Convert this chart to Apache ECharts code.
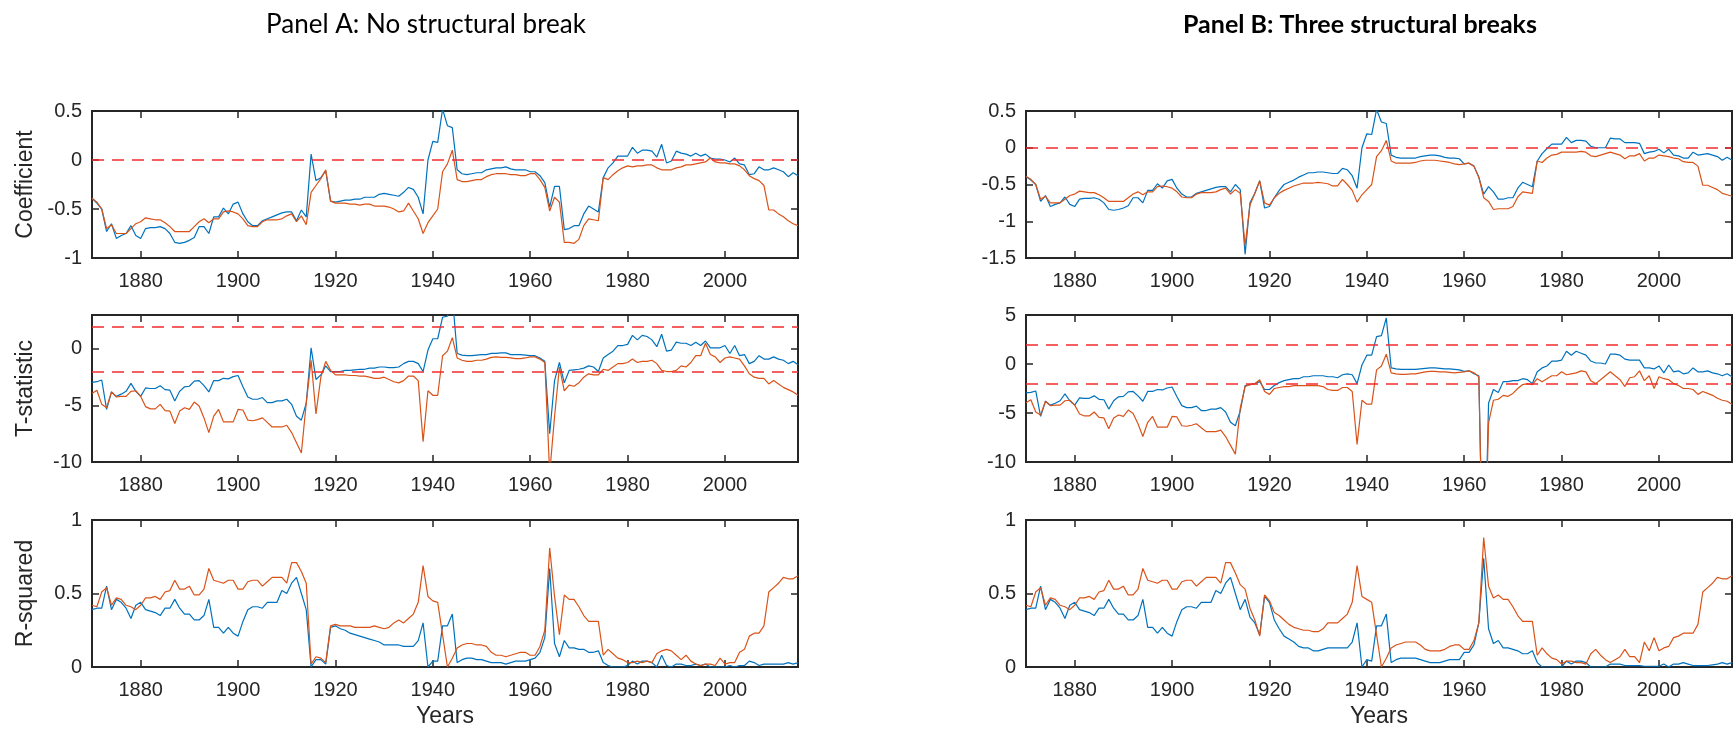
<!DOCTYPE html>
<html>
<head>
<meta charset="utf-8">
<script src="https://cdn.jsdelivr.net/npm/echarts@6/dist/echarts.min.js"></script>
<style>
  html, body { margin: 0; padding: 0; background: #ffffff; }
  #chart { width: 1736px; height: 734px; }
</style>
</head>
<body>
<div id="chart"></div>
<script>
// ---- data: rolling estimates, one value per year 1870–2015 ----
const firstYear = 1870;
const lastYear = 2015;
const xTicks = [1880, 1900, 1920, 1940, 1960, 1980, 2000];

// Panel A – coefficient
const coefA_blue = [
  -0.39,-0.44,-0.50,-0.73,-0.65,-0.80,-0.77,-0.75,-0.67,-0.77,
  -0.80,-0.70,-0.69,-0.69,-0.68,-0.70,-0.75,-0.84,-0.85,-0.84,
  -0.82,-0.79,-0.68,-0.68,-0.75,-0.58,-0.58,-0.49,-0.55,-0.45,
  -0.43,-0.55,-0.63,-0.67,-0.67,-0.62,-0.60,-0.58,-0.56,-0.54,
  -0.53,-0.53,-0.62,-0.51,-0.58,0.06,-0.21,-0.18,-0.11,-0.42,
  -0.43,-0.42,-0.41,-0.41,-0.40,-0.40,-0.38,-0.38,-0.38,-0.35,
  -0.34,-0.35,-0.36,-0.37,-0.33,-0.28,-0.30,-0.38,-0.55,0.00,
  0.19,0.18,0.52,0.35,0.33,-0.10,-0.14,-0.15,-0.14,-0.13,
  -0.13,-0.10,-0.09,-0.08,-0.08,-0.07,-0.09,-0.10,-0.10,-0.10,
  -0.12,-0.12,-0.16,-0.23,-0.48,-0.27,-0.27,-0.71,-0.70,-0.67,
  -0.67,-0.55,-0.47,-0.50,-0.53,-0.18,-0.08,-0.03,0.04,0.04,
  0.04,0.13,0.07,0.10,0.10,0.09,0.03,0.16,-0.03,-0.01,
  0.09,0.07,0.06,0.04,0.07,0.04,0.06,0.02,0.01,0.01,
  0.00,-0.02,0.02,-0.04,-0.05,-0.15,-0.14,-0.07,-0.10,-0.10,
  -0.08,-0.10,-0.12,-0.17,-0.13,-0.16
];
const coefA_orange = [
  -0.39,-0.43,-0.50,-0.70,-0.66,-0.75,-0.75,-0.75,-0.70,-0.65,
  -0.63,-0.59,-0.60,-0.61,-0.61,-0.64,-0.68,-0.73,-0.73,-0.73,
  -0.73,-0.68,-0.63,-0.60,-0.64,-0.60,-0.60,-0.53,-0.52,-0.53,
  -0.55,-0.60,-0.67,-0.68,-0.68,-0.63,-0.61,-0.61,-0.61,-0.60,
  -0.57,-0.55,-0.63,-0.57,-0.66,-0.33,-0.26,-0.19,-0.10,-0.42,
  -0.44,-0.44,-0.44,-0.45,-0.45,-0.46,-0.45,-0.45,-0.47,-0.47,
  -0.47,-0.48,-0.50,-0.53,-0.52,-0.44,-0.52,-0.60,-0.75,-0.64,
  -0.57,-0.50,-0.12,-0.04,0.10,-0.20,-0.22,-0.22,-0.21,-0.20,
  -0.20,-0.17,-0.15,-0.14,-0.14,-0.14,-0.15,-0.15,-0.16,-0.16,
  -0.14,-0.14,-0.20,-0.28,-0.52,-0.38,-0.43,-0.84,-0.84,-0.85,
  -0.81,-0.67,-0.60,-0.61,-0.62,-0.18,-0.20,-0.15,-0.11,-0.08,
  -0.06,-0.07,-0.06,-0.06,-0.05,-0.05,-0.08,-0.10,-0.10,-0.10,
  -0.08,-0.07,-0.05,-0.05,-0.04,-0.03,-0.02,0.02,-0.02,-0.03,
  -0.03,-0.04,-0.04,-0.06,-0.10,-0.16,-0.19,-0.21,-0.26,-0.51,
  -0.51,-0.55,-0.58,-0.62,-0.65,-0.67
];

// Panel B – coefficient
const coefB_blue = [
  -0.39,-0.44,-0.50,-0.73,-0.65,-0.80,-0.77,-0.75,-0.67,-0.77,
  -0.80,-0.70,-0.69,-0.69,-0.68,-0.70,-0.75,-0.84,-0.85,-0.84,
  -0.82,-0.79,-0.68,-0.68,-0.75,-0.58,-0.58,-0.49,-0.55,-0.45,
  -0.43,-0.55,-0.63,-0.67,-0.67,-0.62,-0.60,-0.58,-0.56,-0.54,
  -0.53,-0.53,-0.60,-0.50,-0.57,-1.45,-0.75,-0.62,-0.45,-0.82,
  -0.80,-0.68,-0.58,-0.50,-0.47,-0.44,-0.40,-0.37,-0.34,-0.34,
  -0.33,-0.33,-0.34,-0.35,-0.35,-0.28,-0.30,-0.38,-0.55,0.00,
  0.19,0.18,0.52,0.35,0.33,-0.10,-0.13,-0.14,-0.14,-0.14,
  -0.14,-0.12,-0.11,-0.10,-0.10,-0.11,-0.13,-0.14,-0.14,-0.15,
  -0.22,-0.21,-0.25,-0.40,-0.63,-0.53,-0.60,-0.70,-0.70,-0.68,
  -0.68,-0.55,-0.47,-0.50,-0.53,-0.18,-0.08,-0.01,0.05,0.05,
  0.05,0.14,0.07,0.10,0.10,0.09,0.02,0.00,0.00,0.00,
  0.13,0.12,0.12,0.07,0.07,0.07,0.06,-0.08,-0.06,-0.05,
  -0.02,-0.07,-0.02,-0.10,-0.11,-0.14,-0.14,-0.06,-0.10,-0.09,
  -0.08,-0.10,-0.12,-0.17,-0.13,-0.17
];
const coefB_orange = [
  -0.39,-0.43,-0.50,-0.70,-0.66,-0.75,-0.75,-0.75,-0.70,-0.65,
  -0.63,-0.59,-0.60,-0.61,-0.61,-0.64,-0.68,-0.73,-0.73,-0.73,
  -0.73,-0.68,-0.63,-0.60,-0.64,-0.60,-0.60,-0.53,-0.52,-0.53,
  -0.55,-0.60,-0.67,-0.68,-0.68,-0.63,-0.61,-0.61,-0.61,-0.60,
  -0.57,-0.55,-0.63,-0.57,-0.62,-1.33,-0.78,-0.62,-0.45,-0.75,
  -0.78,-0.68,-0.62,-0.58,-0.55,-0.52,-0.50,-0.48,-0.48,-0.48,
  -0.47,-0.48,-0.49,-0.52,-0.52,-0.43,-0.50,-0.58,-0.74,-0.64,
  -0.57,-0.50,-0.12,-0.04,0.10,-0.18,-0.21,-0.21,-0.21,-0.21,
  -0.20,-0.18,-0.17,-0.17,-0.17,-0.18,-0.19,-0.20,-0.22,-0.23,
  -0.22,-0.21,-0.25,-0.40,-0.68,-0.73,-0.84,-0.83,-0.83,-0.83,
  -0.80,-0.67,-0.60,-0.61,-0.62,-0.18,-0.20,-0.14,-0.10,-0.09,
  -0.06,-0.06,-0.06,-0.06,-0.05,-0.06,-0.11,-0.12,-0.10,-0.08,
  -0.06,-0.08,-0.10,-0.15,-0.11,-0.11,-0.08,-0.18,-0.14,-0.14,
  -0.10,-0.11,-0.12,-0.14,-0.15,-0.19,-0.20,-0.20,-0.25,-0.51,
  -0.51,-0.54,-0.57,-0.62,-0.64,-0.66
];

// Panel A – t-statistic
const tstatA_blue = [
  -2.95,-2.9,-2.75,-5.35,-3.8,-4.2,-4.0,-3.75,-3.05,-3.75,
  -4.2,-3.45,-3.5,-3.5,-3.25,-3.6,-3.65,-4.6,-3.75,-3.35,
  -3.3,-2.85,-2.8,-3.25,-3.8,-2.8,-2.8,-2.6,-2.65,-2.45,
  -2.35,-3.35,-4.25,-4.45,-4.45,-4.3,-4.75,-4.75,-4.6,-4.6,
  -4.45,-4.9,-5.95,-6.3,-4.8,0.1,-2.7,-2.3,-1.5,-2.0,
  -2.0,-2.0,-1.9,-1.9,-1.85,-1.8,-1.8,-1.7,-1.7,-1.6,
  -1.6,-1.65,-1.65,-1.6,-1.3,-1.1,-1.1,-1.3,-2.0,-0.1,
  0.9,0.9,2.8,2.9,4.7,-0.4,-0.55,-0.6,-0.6,-0.55,
  -0.5,-0.5,-0.4,-0.4,-0.35,-0.35,-0.5,-0.5,-0.5,-0.55,
  -0.6,-0.6,-0.8,-1.1,-7.5,-2.8,-1.2,-3.0,-1.9,-1.85,
  -1.8,-1.7,-1.5,-1.6,-2.0,-0.8,-0.5,-0.2,0.3,0.3,
  0.4,1.2,0.8,1.2,1.1,0.8,0.2,1.3,-0.2,-0.1,
  0.6,0.5,0.5,0.3,0.6,0.3,0.7,0.1,0.1,0.1,
  0.3,-0.4,0.3,-0.6,-0.5,-1.3,-1.1,-0.6,-0.9,-0.9,
  -0.7,-0.9,-1.0,-1.3,-1.1,-1.4
];
const tstatA_orange = [
  -3.95,-3.65,-4.9,-5.2,-3.8,-4.25,-4.2,-4.2,-3.75,-3.7,
  -4.2,-5.1,-5.3,-5.3,-4.9,-5.45,-5.5,-6.6,-5.5,-5.2,
  -5.35,-4.7,-5.05,-6.1,-7.4,-5.95,-5.35,-6.45,-6.45,-6.45,
  -5.35,-5.4,-6.3,-6.35,-6.25,-6.1,-6.5,-6.9,-6.9,-6.9,
  -6.75,-7.4,-8.3,-9.2,-4.8,-1.0,-5.75,-2.5,-1.1,-1.9,
  -2.3,-2.3,-2.3,-2.35,-2.35,-2.4,-2.4,-2.5,-2.6,-2.6,
  -2.5,-2.7,-2.9,-3.0,-2.8,-2.4,-2.4,-2.8,-8.2,-3.7,
  -4.1,-4.1,-0.6,-0.2,1.0,-0.8,-1.0,-1.1,-1.1,-1.0,
  -1.0,-0.9,-0.75,-0.7,-0.75,-0.75,-0.8,-0.85,-0.85,-0.8,
  -0.7,-0.7,-0.9,-1.2,-11.0,-6.0,-1.6,-3.7,-3.2,-3.3,
  -3.0,-2.5,-2.2,-2.3,-2.3,-1.8,-1.9,-1.6,-1.3,-1.3,
  -1.2,-0.9,-1.2,-1.1,-1.1,-1.0,-1.3,-1.9,-2.0,-2.0,
  -1.9,-1.5,-1.6,-1.2,-0.6,-0.6,0.5,-0.5,-0.7,-1.2,
  -0.8,-0.7,-0.8,-0.9,-1.5,-2.2,-2.5,-2.6,-2.6,-3.1,
  -2.8,-3.1,-3.4,-3.6,-3.8,-4.1
];

// Panel B – t-statistic
const tstatB_blue = [
  -2.95,-2.9,-2.75,-5.35,-3.8,-4.2,-4.0,-3.75,-3.05,-3.75,
  -4.2,-3.45,-3.5,-3.5,-3.25,-3.6,-3.65,-4.6,-3.75,-3.35,
  -3.3,-2.85,-2.8,-3.25,-3.8,-2.8,-2.8,-2.6,-2.65,-2.45,
  -2.35,-3.35,-4.25,-4.45,-4.45,-4.3,-4.75,-4.75,-4.6,-4.6,
  -4.45,-4.9,-5.95,-6.3,-4.8,-2.2,-2.1,-2.0,-1.8,-2.6,
  -2.6,-2.2,-1.9,-1.7,-1.6,-1.5,-1.5,-1.3,-1.3,-1.2,
  -1.2,-1.2,-1.3,-1.3,-1.4,-1.1,-1.0,-1.1,-2.0,-0.1,
  0.9,0.9,2.8,2.9,4.7,-0.4,-0.5,-0.55,-0.55,-0.55,
  -0.55,-0.5,-0.45,-0.4,-0.4,-0.45,-0.5,-0.5,-0.55,-0.6,
  -0.75,-0.7,-1.0,-1.2,-25.0,-4.0,-2.6,-2.9,-1.8,-1.8,
  -1.7,-1.7,-1.5,-1.6,-2.0,-0.8,-0.4,-0.2,0.3,0.3,
  0.4,1.3,0.9,1.3,1.1,0.9,0.3,0.1,0.1,0.0,
  1.0,1.0,0.9,0.5,0.4,0.4,0.4,-0.4,-0.4,-0.5,
  -0.2,-0.9,-0.1,-0.8,-0.7,-1.0,-0.9,-0.4,-0.8,-0.8,
  -0.7,-0.9,-1.0,-1.2,-1.0,-1.3
];
const tstatB_orange = [
  -3.95,-3.65,-4.9,-5.2,-3.8,-4.25,-4.2,-4.2,-3.75,-3.7,
  -4.2,-5.1,-5.3,-5.3,-4.9,-5.45,-5.5,-6.6,-5.5,-5.2,
  -5.35,-4.7,-5.05,-6.1,-7.4,-5.95,-5.35,-6.45,-6.45,-6.45,
  -5.35,-5.4,-6.3,-6.35,-6.25,-6.1,-6.5,-6.9,-6.9,-6.9,
  -6.75,-7.4,-8.3,-9.2,-4.5,-2.3,-2.1,-2.0,-1.6,-2.8,
  -3.1,-2.5,-2.4,-2.3,-2.3,-2.2,-2.2,-2.2,-2.2,-2.2,
  -2.2,-2.3,-2.6,-2.7,-2.7,-2.4,-2.4,-2.8,-8.2,-3.7,
  -4.1,-4.1,-0.6,-0.2,1.0,-0.9,-1.0,-1.05,-1.05,-1.0,
  -1.0,-0.9,-0.8,-0.75,-0.75,-0.8,-0.8,-0.85,-0.9,-0.85,
  -0.8,-0.7,-0.9,-1.3,-25.0,-6.0,-3.7,-3.6,-3.2,-3.3,
  -3.0,-2.5,-2.1,-2.0,-2.1,-1.5,-1.8,-1.5,-1.2,-1.2,
  -0.8,-1.1,-1.0,-0.9,-0.7,-0.8,-1.7,-2.0,-1.6,-1.2,
  -0.8,-1.2,-1.6,-2.3,-1.4,-1.3,-0.7,-1.7,-1.2,-2.5,
  -1.3,-1.5,-1.6,-2.0,-2.2,-2.5,-2.5,-2.6,-3.1,-2.8,
  -3.0,-3.2,-3.5,-3.7,-3.8,-4.1
];

// Panel A – R-squared
const rsqA_blue = [
  0.39,0.40,0.40,0.55,0.39,0.46,0.44,0.40,0.33,0.42,
  0.44,0.39,0.38,0.37,0.35,0.40,0.40,0.46,0.40,0.36,
  0.36,0.32,0.32,0.35,0.46,0.27,0.27,0.23,0.27,0.23,
  0.21,0.31,0.39,0.41,0.41,0.40,0.44,0.44,0.44,0.52,
  0.50,0.57,0.61,0.50,0.39,0.00,0.05,0.05,0.02,0.27,
  0.28,0.26,0.25,0.23,0.22,0.21,0.20,0.19,0.18,0.17,
  0.15,0.15,0.15,0.15,0.14,0.14,0.14,0.18,0.30,0.00,
  0.04,0.04,0.28,0.28,0.36,0.03,0.05,0.06,0.06,0.05,
  0.05,0.04,0.03,0.03,0.03,0.02,0.03,0.04,0.04,0.04,
  0.05,0.06,0.10,0.20,0.67,0.16,0.07,0.18,0.13,0.13,
  0.12,0.12,0.10,0.10,0.11,0.03,0.01,0.00,0.00,0.00,
  0.01,0.04,0.02,0.04,0.04,0.03,0.00,0.08,0.01,0.00,
  0.02,0.02,0.01,0.01,0.02,0.01,0.02,0.00,0.00,0.00,
  0.00,0.01,0.00,0.01,0.01,0.04,0.03,0.01,0.02,0.02,
  0.02,0.02,0.02,0.03,0.02,0.03
];
const rsqA_orange = [
  0.42,0.41,0.51,0.54,0.42,0.47,0.46,0.42,0.41,0.39,
  0.42,0.47,0.47,0.48,0.46,0.51,0.52,0.59,0.53,0.53,
  0.55,0.49,0.49,0.53,0.67,0.59,0.58,0.57,0.59,0.59,
  0.53,0.53,0.58,0.59,0.59,0.55,0.58,0.61,0.61,0.61,
  0.57,0.71,0.71,0.65,0.57,0.02,0.07,0.06,0.03,0.28,
  0.29,0.28,0.28,0.28,0.27,0.27,0.27,0.27,0.28,0.27,
  0.26,0.27,0.30,0.32,0.30,0.33,0.36,0.44,0.69,0.48,
  0.45,0.44,0.22,0.00,0.06,0.13,0.15,0.16,0.16,0.15,
  0.15,0.14,0.10,0.08,0.08,0.07,0.08,0.09,0.10,0.10,
  0.08,0.08,0.14,0.25,0.81,0.48,0.22,0.49,0.46,0.46,
  0.41,0.35,0.31,0.31,0.31,0.08,0.12,0.09,0.06,0.05,
  0.03,0.03,0.04,0.03,0.04,0.03,0.09,0.11,0.12,0.11,
  0.08,0.05,0.08,0.04,0.02,0.01,0.02,0.02,0.01,0.06,
  0.02,0.03,0.03,0.10,0.12,0.21,0.23,0.23,0.28,0.51,
  0.54,0.57,0.61,0.60,0.60,0.62
];

// Panel B – R-squared
const rsqB_blue = [
  0.39,0.40,0.40,0.55,0.39,0.46,0.44,0.40,0.33,0.42,
  0.44,0.39,0.38,0.37,0.35,0.40,0.40,0.46,0.40,0.36,
  0.36,0.32,0.32,0.35,0.46,0.27,0.27,0.23,0.27,0.23,
  0.21,0.31,0.39,0.41,0.41,0.40,0.44,0.44,0.44,0.52,
  0.50,0.57,0.61,0.50,0.39,0.46,0.34,0.30,0.22,0.48,
  0.44,0.32,0.26,0.21,0.19,0.17,0.14,0.13,0.13,0.11,
  0.11,0.12,0.13,0.13,0.13,0.13,0.13,0.17,0.30,0.00,
  0.05,0.04,0.28,0.28,0.36,0.03,0.05,0.06,0.06,0.06,
  0.06,0.05,0.04,0.03,0.03,0.03,0.04,0.05,0.05,0.05,
  0.10,0.10,0.15,0.30,0.74,0.26,0.16,0.18,0.13,0.13,
  0.12,0.11,0.09,0.09,0.11,0.03,0.00,0.00,0.00,0.00,
  0.00,0.04,0.02,0.04,0.04,0.03,0.00,0.00,0.00,0.00,
  0.02,0.02,0.02,0.01,0.01,0.01,0.01,0.005,0.005,0.005,
  0.005,0.02,0.00,0.02,0.02,0.03,0.02,0.01,0.01,0.01,
  0.01,0.015,0.02,0.03,0.02,0.03
];
const rsqB_orange = [
  0.42,0.41,0.51,0.54,0.42,0.47,0.46,0.42,0.41,0.39,
  0.42,0.47,0.47,0.48,0.46,0.51,0.52,0.59,0.53,0.53,
  0.55,0.49,0.49,0.53,0.67,0.59,0.58,0.57,0.59,0.59,
  0.53,0.53,0.58,0.59,0.59,0.55,0.58,0.61,0.61,0.61,
  0.57,0.71,0.71,0.64,0.56,0.53,0.40,0.32,0.21,0.49,
  0.45,0.37,0.35,0.32,0.29,0.27,0.26,0.25,0.25,0.24,
  0.24,0.26,0.30,0.30,0.30,0.33,0.36,0.44,0.69,0.48,
  0.46,0.44,0.22,0.00,0.06,0.13,0.15,0.16,0.17,0.17,
  0.17,0.15,0.12,0.11,0.11,0.11,0.12,0.14,0.15,0.15,
  0.12,0.12,0.18,0.30,0.88,0.55,0.47,0.49,0.46,0.46,
  0.41,0.35,0.31,0.31,0.31,0.08,0.13,0.09,0.06,0.05,
  0.02,0.04,0.04,0.03,0.03,0.02,0.09,0.12,0.08,0.05,
  0.03,0.05,0.07,0.12,0.07,0.07,0.03,0.17,0.11,0.20,
  0.11,0.13,0.14,0.20,0.21,0.23,0.23,0.23,0.29,0.51,
  0.54,0.57,0.61,0.60,0.60,0.62
];

// Axis settings per row
const coefTicksA = [-1, -0.5, 0, 0.5];
const coefTicksB = [-1.5, -1, -0.5, 0, 0.5];
const tstatTicksA = [-10, -5, 0];
const tstatTicksB = [-10, -5, 0, 5];
const rsqTicks = [0, 0.5, 1];
const coefRefLines = [0];
const tstatRefLines = [2, -2];

const panelTitles = ['Panel A: No structural break', 'Panel B: Three structural breaks'];
const rowNames = ['Coefficient', 'T-statistic', 'R-squared'];
const xName = 'Years';

// ---- chart construction ----
const years = [];
for (let y = firstYear; y <= lastYear; y++) years.push(y);

const BLUE = '#0072BD';
const ORANGE = '#D95319';
const INK = '#262626';
const AXIS_FONT = '"Liberation Sans", Arial, Helvetica, sans-serif';

const colLeft = [92, 1026];
const colWidth = 706;
const rowTop = [111, 315, 520];
const rowHeight = 147;

const panels = [
  // [column, row, blue, orange, yMin, yMax, ticks, refLines]
  [0, 0, coefA_blue, coefA_orange, -1, 0.5, coefTicksA, coefRefLines],
  [0, 1, tstatA_blue, tstatA_orange, -10, 3, tstatTicksA, tstatRefLines],
  [0, 2, rsqA_blue, rsqA_orange, 0, 1, rsqTicks, null],
  [1, 0, coefB_blue, coefB_orange, -1.5, 0.5, coefTicksB, coefRefLines],
  [1, 1, tstatB_blue, tstatB_orange, -10, 5, tstatTicksB, tstatRefLines],
  [1, 2, rsqB_blue, rsqB_orange, 0, 1, rsqTicks, null]
];

panels.forEach(p => {
  if (p[2].length !== years.length || p[3].length !== years.length) {
    console.error('series length mismatch', p[0], p[1], p[2].length, p[3].length);
  }
});

const grid = [], xAxis = [], yAxis = [], series = [];

const tickStyle = (vals) => ({
  show: true, inside: true, length: 7, customValues: vals,
  lineStyle: { color: INK, width: 1.5 }
});
const noLine = { show: false, onZero: false };
const plainNumber = v => String(v);

panels.forEach((p, i) => {
  const [col, row, blue, orange, yMin, yMax, ticks, refs] = p;
  grid.push({
    left: colLeft[col], top: rowTop[row], width: colWidth, height: rowHeight,
    show: true, borderColor: INK, borderWidth: 2, backgroundColor: 'transparent',
    containLabel: false, outerBoundsMode: 'none'
  });

  const bottomX = {
    type: 'value', gridIndex: i, position: 'bottom', min: firstYear, max: lastYear,
    axisLine: noLine, splitLine: { show: false },
    axisTick: tickStyle(xTicks),
    axisLabel: {
      customValues: xTicks, formatter: plainNumber, margin: 13,
      fontSize: 20, color: INK, fontFamily: AXIS_FONT
    }
  };
  if (row === 2) {
    Object.assign(bottomX, {
      name: xName, nameLocation: 'middle', nameGap: 38,
      nameTextStyle: { fontSize: 23, color: INK, fontFamily: AXIS_FONT }
    });
  }
  xAxis.push(bottomX);
  xAxis.push({
    type: 'value', gridIndex: i, position: 'top', min: firstYear, max: lastYear,
    axisLine: noLine, splitLine: { show: false },
    axisTick: tickStyle(xTicks), axisLabel: { show: false }
  });

  const leftY = {
    type: 'value', gridIndex: i, position: 'left', min: yMin, max: yMax,
    axisLine: noLine, splitLine: { show: false },
    axisTick: tickStyle(ticks),
    axisLabel: {
      customValues: ticks, formatter: plainNumber, margin: 10,
      fontSize: 20, color: INK, fontFamily: AXIS_FONT
    }
  };
  if (col === 0) {
    Object.assign(leftY, {
      name: rowNames[row], nameLocation: 'middle', nameGap: 55, nameRotate: 90,
      nameTextStyle: { fontSize: 23, color: INK, fontFamily: AXIS_FONT }
    });
  }
  yAxis.push(leftY);
  yAxis.push({
    type: 'value', gridIndex: i, position: 'right', min: yMin, max: yMax,
    axisLine: noLine, splitLine: { show: false },
    axisTick: tickStyle(ticks), axisLabel: { show: false }
  });

  const xi = 2 * i, yi = 2 * i;
  series.push({
    type: 'line', xAxisIndex: xi, yAxisIndex: yi, clip: true,
    data: years.map((y, k) => [y, blue[k]]),
    showSymbol: false, symbol: 'none', silent: true,
    lineStyle: { color: BLUE, width: 1.2 }, z: 2
  });
  series.push({
    type: 'line', xAxisIndex: xi, yAxisIndex: yi, clip: true,
    data: years.map((y, k) => [y, orange[k]]),
    showSymbol: false, symbol: 'none', silent: true,
    lineStyle: { color: ORANGE, width: 1.2 }, z: 3,
    markLine: refs ? {
      silent: true, symbol: ['none', 'none'], label: { show: false },
      lineStyle: { color: '#F22B2B', width: 1.6, type: [12, 8] },
      data: refs.map(v => ({ yAxis: v })), z: 4
    } : undefined
  });
});

const chart = echarts.init(document.getElementById('chart'), null, { renderer: 'canvas' });
chart.setOption({
  animation: false,
  backgroundColor: '#ffffff',
  grid, xAxis, yAxis, series,
  graphic: [
    {
      type: 'text', x: 426, y: 25,
      style: {
        text: panelTitles[0], align: 'center', verticalAlign: 'middle',
        font: '400 26px Lato, "Open Sans", sans-serif', fill: '#000000'
      }
    },
    {
      type: 'text', x: 1360, y: 25,
      style: {
        text: panelTitles[1], align: 'center', verticalAlign: 'middle',
        font: '700 25px Lato, "Open Sans", sans-serif', fill: '#000000'
      }
    }
  ]
});
</script>
</body>
</html>
